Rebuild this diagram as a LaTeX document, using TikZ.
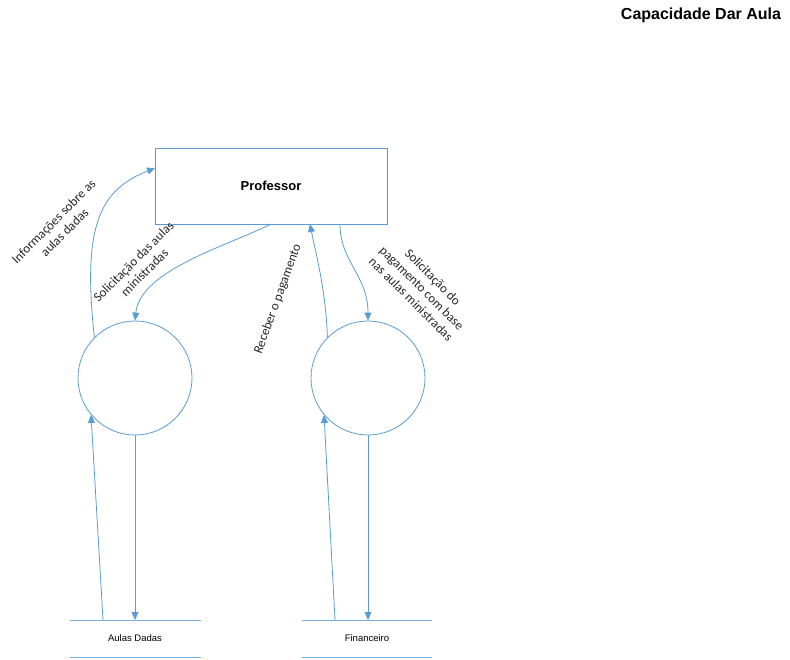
\documentclass[tikz,border=0pt]{standalone}
\usepackage{fontspec}
\setmainfont{Carlito}
\newfontfamily\arialfont{Liberation Sans}
\usetikzlibrary{arrows.meta}
\definecolor{dfdblue}{RGB}{91,155,213}
\begin{document}
\begin{tikzpicture}[x=1pt,y=-1pt,
  flow/.style={draw=dfdblue,line width=0.8pt,-{Triangle[length=8pt,width=7pt]}},
  process/.style={circle,draw=dfdblue,line width=0.8pt,minimum size=114pt,inner sep=0pt},
  entity/.style={rectangle,draw=dfdblue,line width=0.8pt,minimum width=232pt,minimum height=76pt,
    font=\arialfont\fontsize{13}{15}\selectfont\bfseries},
  storeline/.style={draw=dfdblue!80,line width=0.9pt},
  storelabel/.style={font=\arialfont\fontsize{9.5}{11}\selectfont},
  flowlabel/.style={font=\fontsize{13}{15.5}\selectfont,align=center,text=black!85,inner sep=0pt}]
  \useasboundingbox (0,0) rectangle (790,659);

  % title
  \node[font=\arialfont\fontsize{16}{18}\selectfont\bfseries] (title) at (701,15) {Capacidade Dar Aula};

  % external entity and processes
  \node[entity] (prof) at (271,186) {Professor};
  \node[process] (p1) at (135,378) {};
  \node[process] (p2) at (368,378) {};

  % data stores
  \coordinate (s1tl) at (70,620);  \coordinate (s1tr) at (201,620);
  \coordinate (s1bl) at (70,657);  \coordinate (s1br) at (201,657);
  \coordinate (s2tl) at (302,620); \coordinate (s2tr) at (432,620);
  \coordinate (s2bl) at (302,657); \coordinate (s2br) at (432,657);
  \draw[storeline] (s1tl) -- (s1tr);
  \draw[storeline] (s1bl) -- (s1br);
  \draw[storeline] (s2tl) -- (s2tr);
  \draw[storeline] (s2bl) -- (s2br);
  \node[storelabel] (s1) at (135,638) {Aulas Dadas};
  \node[storelabel] (s2) at (367,638) {Financeiro};

  % flow end points on the entity and the stores
  \coordinate (profin1) at (155,168);
  \coordinate (profout1) at (271,224);
  \coordinate (profin2) at (310,224);
  \coordinate (profout2) at (340,224);
  \coordinate (s1up) at (103,620);
  \coordinate (s1down) at (135,620);
  \coordinate (s2up) at (335,620);
  \coordinate (s2down) at (368,620);

  % flows between entity and processes
  \draw[flow] (p1.135) .. controls (82,225) and (100,190) .. (profin1);
  \draw[flow] (profout1) .. controls (230,245) and (140,270) .. (p1.north);
  \draw[flow] (p2.135) .. controls (326,290) and (315,250) .. (profin2);
  \draw[flow] (profout2) .. controls (340,262) and (368,275) .. (p2.north);

  % flows between processes and stores
  \draw[flow] (s1up) -- (p1.220);
  \draw[flow] (p1.south) -- (s1down);
  \draw[flow] (s2up) -- (p2.220);
  \draw[flow] (p2.south) -- (s2down);

  % flow labels
  \node[flowlabel,rotate=45] (l1) at (59,227) {Informações sobre as\\aulas dadas};
  \node[flowlabel,rotate=45] (l2) at (139,267) {Solicitação das aulas\\ministradas};
  \node[flowlabel,rotate=70] (l3) at (278,299) {Receber o pagamento};
  \node[flowlabel,rotate=-45] (l4) at (422,288) {Solicitação do\\pagamento com base\\nas aulas ministradas};
\end{tikzpicture}
\end{document}
